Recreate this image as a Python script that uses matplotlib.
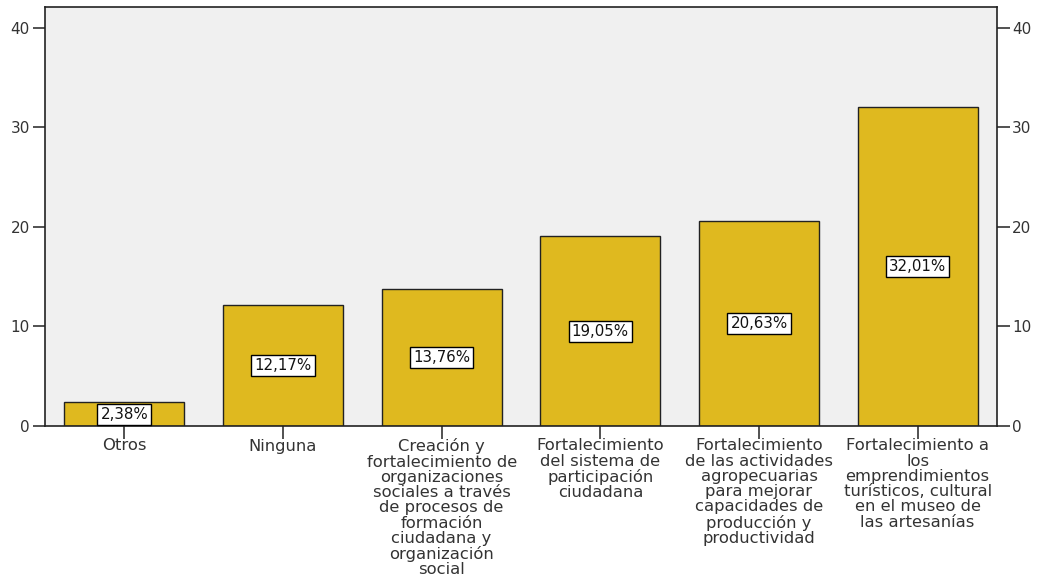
import matplotlib.pyplot as plt
import numpy as np

# Categorías y porcentajes
categorias = [
    "Otros",
    "Ninguna",
    "Creación y\nfortalecimiento de\norganizaciones\nsociales a través\nde procesos de\nformación\nciudadana y\norganización\nsocial",
    "Fortalecimiento\ndel sistema de\nparticipación\nciudadana",
    "Fortalecimiento\nde las actividades\nagropecuarias\npara mejorar\ncapacidades de\nproducción y\nproductividad",
    "Fortalecimiento a\nlos\nemprendimientos\nturísticos, cultural\nen el museo de\nlas artesanías",
]
porcentajes = [2.38, 12.17, 13.76, 19.05, 20.63, 32.01]
yticks = [0, 10, 20, 30, 40]

plt.rcParams["font.family"] = ["DejaVu Sans"]

fig = plt.figure(figsize=(10.38, 5.81), dpi=100)
ax = fig.add_axes([45 / 1038, 1 - 426 / 581, 952 / 1038, 419 / 581])
ax.set_facecolor("#f0f0f0")

x = np.arange(len(categorias))
ax.bar(x, porcentajes, width=0.755, color="#dfb91f", edgecolor="#222222", linewidth=1.0, zorder=2)

for xi, v in zip(x, porcentajes):
    ax.text(xi, v / 2, f"{v:.2f}%".replace(".", ","), ha="center", va="center",
            fontsize=10.8, color="#111111", zorder=3,
            bbox=dict(boxstyle="square,pad=0.2", facecolor="white", edgecolor="black", linewidth=1.0))

ax.set_xlim(-0.5, 5.5)
ax.set_ylim(0, 42.1)
ax.set_xticks(x)
ax.set_xticklabels(categorias, fontsize=11.8, color="#333333", linespacing=1.02)
ax.set_yticks(yticks)
ax.tick_params(axis="y", labelsize=11, colors="#333333", length=9, width=1.2, pad=2,
               left=True, right=True, labelleft=True, labelright=True)
ax.tick_params(axis="x", length=9, width=1.2, color="#333333", pad=0)

for s in ax.spines.values():
    s.set_color("#222222")
    s.set_linewidth(1.2)

fig.savefig("out.png", dpi=100, facecolor="white")
